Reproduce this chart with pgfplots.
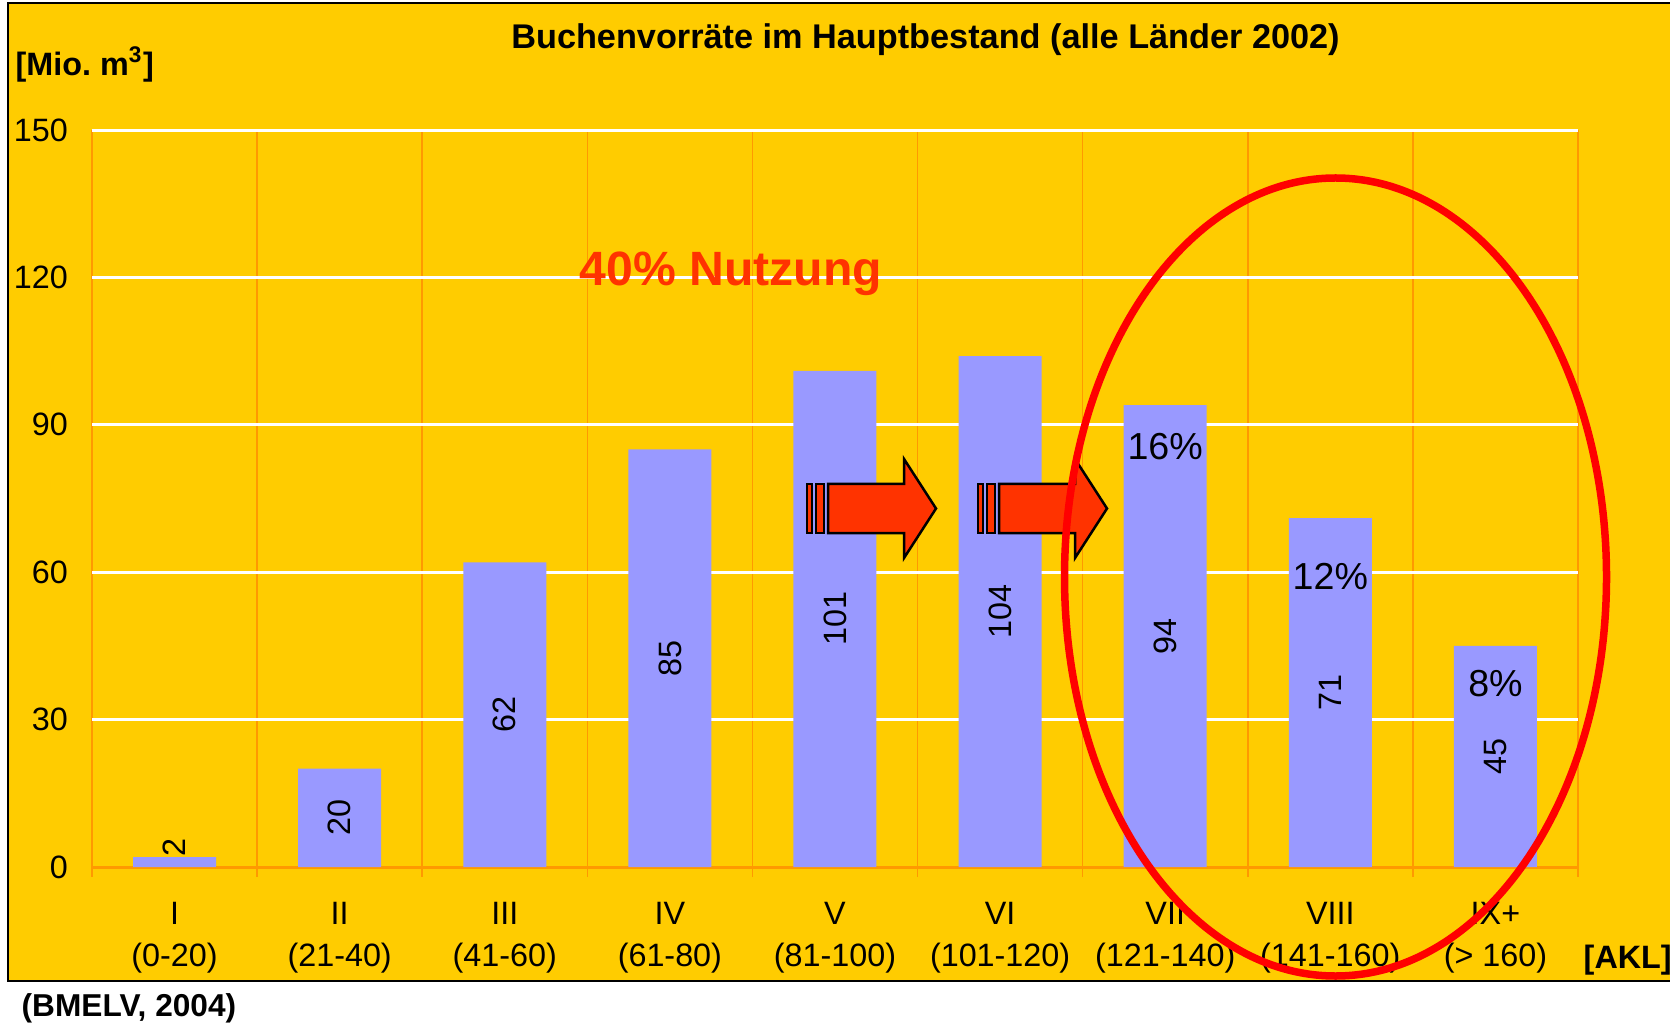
\documentclass[border=0pt]{standalone}
\usepackage{fontspec}
\setmainfont{Liberation Sans}
\usepackage{pgfplots}
\pgfplotsset{compat=1.18}
\definecolor{bg}{HTML}{FFCC00}
\definecolor{barcol}{HTML}{9999FF}
\definecolor{gridor}{HTML}{FF9900}
\definecolor{arrowred}{HTML}{FF3300}

\begin{document}
\begin{tikzpicture}[x=1mm,y=1mm]
\useasboundingbox (0,0) rectangle (167,102.2);
% yellow slide background
\fill[bg] (0.8,4.1) rectangle (170,101.9);
\draw[black, line width=0.2mm] (170,4.1) -- (0.8,4.1) -- (0.8,101.9) -- (170,101.9);

\begin{axis}[
  at={(9.2mm,15.5mm)}, anchor=south west,
  scale only axis, width=148.6mm, height=73.7mm,
  xmin=-0.5, xmax=8.5, ymin=0, ymax=150,
  xtick={0,...,8},
  xticklabels={I\\(0-20), II\\(21-40), III\\(41-60), IV\\(61-80), V\\(81-100),
    VI\\(101-120), VII\\(121-140), VIII\\(141-160), IX+\\(> 160)},
  minor xtick={-0.5,0.5,...,8.5},
  ytick={0,30,...,150},
  xminorgrids=true, ymajorgrids=true,
  y grid style={white, line width=0.3mm},
  minor x grid style={gridor, line width=0.15mm},
  axis x line*=bottom, axis y line*=left,
  y axis line style={draw=none},
  x axis line style={draw=gridor, line width=0.3mm, -},
  major tick length=0pt, minor tick length=1mm,
  tick align=outside,
  major tick style={draw=none},
  minor tick style={gridor, line width=0.15mm},
  /pgf/number format/assume math mode=true,
  yticklabel style={font=\fontsize{9.2}{11}\selectfont, anchor=east, inner sep=0pt, xshift=-2.35mm},
  xticklabel style={font=\fontsize{9.2}{11.9}\selectfont, align=center, anchor=north, inner sep=0pt, yshift=-3.45mm},
]
  \addplot[ybar, bar width=8.3mm, fill=barcol, draw=none]
    coordinates {(0,2) (1,20) (2,62) (3,85) (4,101) (5,104) (6,94) (7,71) (8,45)};
  % values, rotated, in the middle of each bar
  \addplot[draw=none, mark=none, nodes near coords, point meta=explicit symbolic,
    nodes near coords style={rotate=90, anchor=center, inner sep=0pt, font=\fontsize{9.2}{11}\selectfont}]
    coordinates {(0,3.9)[2] (1,10)[20] (2,31)[62] (3,42.5)[85] (4,50.5)[101]
      (5,52)[104] (6,47)[94] (7,35.5)[71] (8,22.5)[45]};
  % shares of the old stands
  \addplot[draw=none, mark=none, nodes near coords, point meta=explicit symbolic,
    nodes near coords style={anchor=center, inner sep=0pt, font=\fontsize{10.7}{12}\selectfont}]
    coordinates {(6,85.6)[16\%] (7,59.1)[12\%] (8,37.4)[8\%]};
\end{axis}

% block arrows
\foreach \dx in {0,17.1} {
  \begin{scope}[shift={(\dx,0)}, draw=black, line width=0.25mm, fill=arrowred]
    \filldraw (80.7,48.9) rectangle (81.2,53.8);
    \filldraw (81.6,48.9) rectangle (82.4,53.8);
    \filldraw (82.8,48.9) -- (90.4,48.9) -- (90.4,46.4) -- (93.6,51.35) -- (90.4,56.3)
      -- (90.4,53.8) -- (82.8,53.8) -- cycle;
  \end{scope}
}

\node[anchor=base, font=\bfseries\fontsize{13.7}{15}\selectfont, text=arrowred] at (73.1,73.6) {40\% Nutzung};
\node[anchor=base, font=\bfseries\fontsize{9.75}{11}\selectfont] at (92.55,97.3) {Buchenvorräte im Hauptbestand (alle Länder 2002)};
\node[anchor=base west, inner sep=0pt, font=\bfseries\fontsize{9.2}{11}\selectfont] at (1.5,94.6) {[Mio.\ m\textsuperscript{3}]};
\node[anchor=base west, inner sep=0pt, font=\bfseries\fontsize{9.2}{11}\selectfont] at (158.3,5.4) {[AKL]};
\node[anchor=base west, inner sep=0pt, font=\bfseries\fontsize{9.0}{11}\selectfont] at (2.1,0.6) {(BMELV, 2004)};

\draw[red, line width=0.75mm] (133.55,44.5) ellipse [x radius=27.1, y radius=39.9];
\end{tikzpicture}
\end{document}
